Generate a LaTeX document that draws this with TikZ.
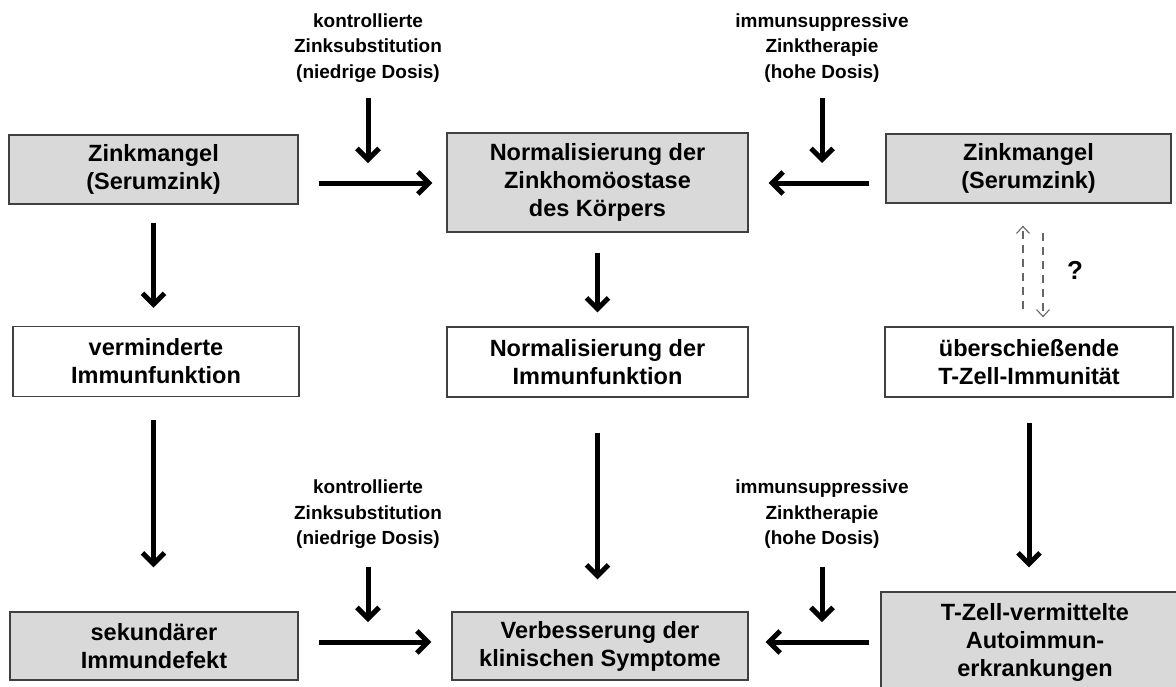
\documentclass[tikz,border=0pt]{standalone}
\usepackage{fontspec}
\setmainfont{Liberation Sans}
\usetikzlibrary{arrows.meta}
\begin{document}
\begin{tikzpicture}[x=1pt, y=-1pt,
    box/.style={draw=black!75, line width=1.3pt, inner sep=0pt, align=center,
      font=\fontsize{23.5}{28}\selectfont\bfseries},
    graybox/.style={box, fill=gray!30},
    whitebox/.style={box, fill=white},
    lbl/.style={align=center, inner sep=0pt, font=\fontsize{19}{25.5}\selectfont\bfseries},
    bigarrow/.style={line width=5pt, -{Straight Barb[length=11pt,width=22pt]}},
    dasharrow/.style={black!60, line width=1.1pt, dash pattern=on 8pt off 6pt,
      -{Straight Barb[length=7pt,width=13pt]}}]
  \useasboundingbox (0,0) rectangle (1176,686);
  % first row
  \node[graybox, minimum width=289pt, minimum height=69pt] (mangelL) at (153.5,169.5) {Zinkmangel\\(Serumzink)};
  \node[graybox, minimum width=301pt, minimum height=99pt] (zinkM) at (597.5,182.5) {Normalisierung der\\Zinkhomöostase\\des Körpers};
  \node[graybox, minimum width=285pt, minimum height=69pt] (mangelR) at (1028.5,168.5) {Zinkmangel\\(Serumzink)};
  % second row
  \node[whitebox, minimum width=286pt, minimum height=70pt] (immunL) at (156,361.5) {verminderte\\Immunfunktion};
  \node[whitebox, minimum width=301pt, minimum height=70pt] (immunM) at (597.5,362) {Normalisierung der\\Immunfunktion};
  \node[whitebox, minimum width=288pt, minimum height=70pt] (tcellR) at (1029,362) {überschießende\\T-Zell-Immunität};
  % third row
  \node[graybox, minimum width=288pt, minimum height=68pt] (defekt) at (154,646) {sekundärer\\Immundefekt};
  \node[graybox, minimum width=296pt, minimum height=68pt] (verbM) at (600,646) {Verbesserung der\\klinischen Symptome};
  \node[graybox, minimum width=308pt, minimum height=100pt] (autoR) at (1035,642) {T-Zell-vermittelte\\Autoimmun-\\erkrankungen};
  % therapy labels
  \node[lbl] (substA) at (368,47.8) {kontrollierte\\Zinksubstitution\\(niedrige Dosis)};
  \node[lbl] (therA) at (822,47.8) {immunsuppressive\\Zinktherapie\\(hohe Dosis)};
  \node[lbl] (substC) at (368,514.5) {kontrollierte\\Zinksubstitution\\(niedrige Dosis)};
  \node[lbl] (therC) at (822,514.5) {immunsuppressive\\Zinktherapie\\(hohe Dosis)};
  \node[font=\fontsize{26}{26}\selectfont\bfseries] (frage) at (1075,270) {?};
  \coordinate (rowA) at (0,183);
  \coordinate (rowC) at (0,642);
  % arrows
  \draw[bigarrow] ([xshift=20pt]mangelL.east |- rowA) -- ([xshift=-14pt]zinkM.west |- rowA);
  \draw[bigarrow] ([xshift=-16pt]mangelR.west |- rowA) -- ([xshift=20pt]zinkM.east |- rowA);
  \draw[bigarrow] ([yshift=-16pt]substA.south) -- ([yshift=20pt]substA.south |- rowA);
  \draw[bigarrow] ([yshift=-16pt]therA.south) -- ([yshift=20pt]therA.south |- rowA);
  \draw[bigarrow] ([xshift=20pt]defekt.east |- rowC) -- ([xshift=-20pt]verbM.west |- rowC);
  \draw[bigarrow] ([xshift=-11pt]autoR.west |- rowC) -- ([xshift=17pt]verbM.east |- rowC);
  \draw[bigarrow] ([yshift=-18pt]substC.south) -- ([yshift=20pt]substC.south |- rowC);
  \draw[bigarrow] ([yshift=-18pt]therC.south) -- ([yshift=20pt]therC.south |- rowC);
  \draw[bigarrow] ([yshift=-18pt]mangelL.south) -- ([yshift=18pt]mangelL.south |- immunL.north);
  \draw[bigarrow] ([yshift=-23pt]mangelL.south |- immunL.south) -- ([yshift=44pt]mangelL.south |- defekt.north);
  \draw[bigarrow] ([yshift=-20pt]zinkM.south) -- ([yshift=14pt]immunM.north);
  \draw[bigarrow] ([yshift=-35pt]immunM.south) -- ([yshift=32pt]immunM.south |- verbM.north);
  \draw[bigarrow] ([yshift=-25pt]tcellR.south) -- ([yshift=24pt]tcellR.south |- autoR.north);
  \draw[dasharrow] ([xshift=-6pt,yshift=17pt]tcellR.north) -- ([xshift=-6pt,yshift=-22pt]tcellR.north |- mangelR.south);
  \draw[dasharrow] ([xshift=14.5pt,yshift=-29pt]mangelR.south) -- ([xshift=14.5pt,yshift=9pt]mangelR.south |- tcellR.north);
\end{tikzpicture}
\end{document}
